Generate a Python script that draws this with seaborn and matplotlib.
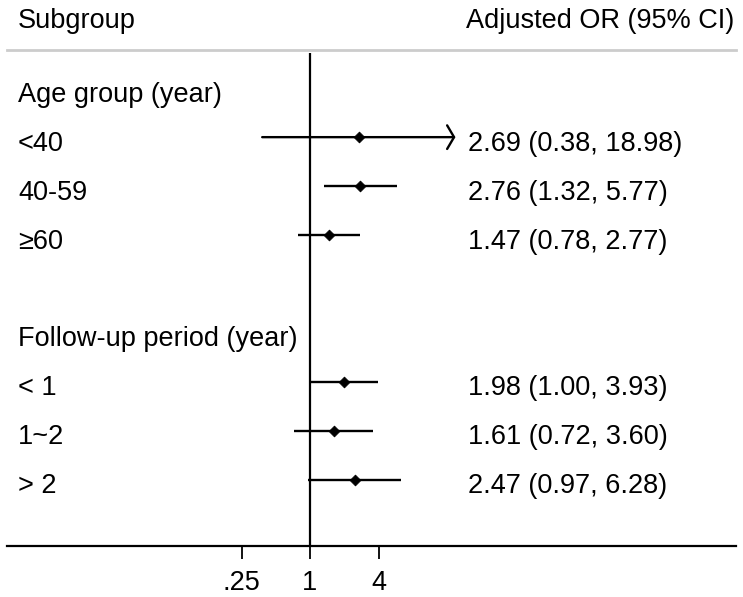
import numpy as np
import pandas as pd
import matplotlib
matplotlib.use('Agg')
import matplotlib.pyplot as plt
import seaborn as sns

# ---- data ----
headers = ['Age group (year)', 'Follow-up period (year)']
header_rows = [-1, 4]
labels = ['<40', '40-59', '\u226560', '< 1', '1~2', '> 2']
rows = [0, 1, 2, 5, 6, 7]
odds = [2.69, 2.76, 1.47, 1.98, 1.61, 2.47]
lower = [0.38, 1.32, 0.78, 1.00, 0.72, 0.97]
upper = [18.98, 5.77, 2.77, 3.93, 3.60, 6.28]
tick_vals = [0.25, 1, 4]
tick_labels = ['.25', '1', '4']
arrow_cut = 16  # CI beyond this gets an arrow

df = pd.DataFrame({'label': labels, 'row': rows, 'or': odds,
                   'lo': lower, 'hi': upper})
df['x'] = np.log2(df['or'])
df['xlo'] = np.log2(df['lo'])
df['xhi'] = np.log2(df['hi'])

sns.set_style('white')
plt.rcParams['font.family'] = ['Liberation Sans', 'DejaVu Sans']
plt.rcParams['text.color'] = 'black'
plt.rcParams['xtick.color'] = 'black'
plt.rcParams['xtick.labelcolor'] = 'black'
FS = 19.5

W, H = 743, 597
fig = plt.figure(figsize=(W / 100, H / 100), dpi=100)
# axes spans px 7..736 horizontally, 50..546 vertically
ax = fig.add_axes([7 / W, (H - 546) / H, (736 - 7) / W, (546 - 50) / H])

px_per_unit = 34.25
x_ref = 310
ax.set_xlim((7 - x_ref) / px_per_unit, (736 - x_ref) / px_per_unit)
ax.set_ylim(8.35, -1.78)

def px_to_x(px):
    return (px - x_ref) / px_per_unit

# reference line at OR = 1
ax.vlines(0, -1.72, 8.35, color='black', lw=1.6, zorder=1)

# confidence intervals
for _, r in df.iterrows():
    if r['hi'] > arrow_cut:
        ax.annotate('', xy=(r['xhi'], r['row']), xytext=(r['xlo'], r['row']),
                    arrowprops=dict(arrowstyle='->,head_length=0.5,head_width=0.85',
                                    mutation_scale=10, lw=1.7, color='black',
                                    shrinkA=0, shrinkB=0))
    else:
        ax.hlines(r['row'], r['xlo'], r['xhi'], color='black', lw=1.7, zorder=2)

sns.scatterplot(data=df, x='x', y='row', marker='D', s=30, color='black',
                edgecolor='black', linewidth=0.6, zorder=3, ax=ax, legend=False)

# text columns
for _, r in df.iterrows():
    ax.text(px_to_x(18), r['row'] + 0.07, r['label'], fontsize=FS,
            ha='left', va='center_baseline', color='black')
    ax.text(px_to_x(468), r['row'] + 0.07,
            f"{r['or']:.2f} ({r['lo']:.2f}, {r['hi']:.2f})",
            fontsize=FS, ha='left', va='center_baseline', color='black')
for h, yr in zip(headers, header_rows):
    ax.text(px_to_x(18), yr + 0.07, h, fontsize=FS, ha='left',
            va='center_baseline', color='black')

ax.text(px_to_x(18), -2.44, 'Subgroup', fontsize=FS, ha='left',
        va='center_baseline', clip_on=False, color='black')
ax.text(px_to_x(734), -2.44, 'Adjusted OR (95% CI)', fontsize=FS, ha='right',
        va='center_baseline', clip_on=False, color='black')

# axis styling
ax.set_xticks(np.log2(tick_vals))
ax.set_xticklabels(tick_labels, fontsize=FS, color='black')
ax.set_yticks([])
ax.set_xlabel('')
ax.set_ylabel('')
ax.tick_params(axis='x', direction='out', length=9, width=1.3, pad=8,
               color='black', bottom=True)
for side in ['left', 'right']:
    ax.spines[side].set_visible(False)
ax.spines['bottom'].set_color('black')
ax.spines['bottom'].set_linewidth(1.6)
ax.spines['top'].set_color('#cccccc')
ax.spines['top'].set_linewidth(2)

fig.savefig('out.png', dpi=100)
